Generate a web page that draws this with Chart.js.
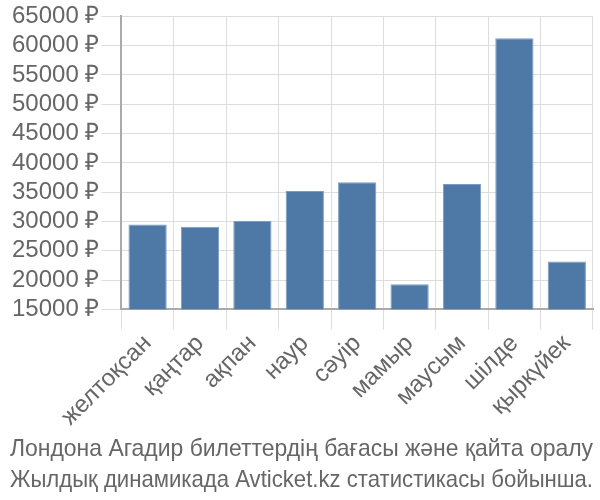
<!DOCTYPE html>
<html>
<head>
<meta charset="utf-8">
<script src="https://cdn.jsdelivr.net/npm/chart.js@4"></script>
<style>
  html, body { margin: 0; padding: 0; background: #fff; }
  #wrap { width: 600px; height: 500px; }
</style>
</head>
<body>
<div id="wrap"><canvas id="chart"></canvas></div>
<script>
const months = ["желтоқсан", "қаңтар", "ақпан", "наур", "сәуір", "мамыр", "маусым", "шілде", "қыркүйек"];
const prices = [29500, 29100, 30100, 35200, 36700, 19300, 36400, 61250, 23150];
const titleLines = [
  "Лондона Агадир билеттердің бағасы және қайта оралу",
  "Жылдық динамикада Avticket.kz статистикасы бойынша."
];

const textColor = "#666666";
const gridColor = "#dddddd";
const fontFamily = "Liberation Sans, Arial, sans-serif";

new Chart(document.getElementById("chart"), {
  type: "bar",
  data: {
    labels: months,
    datasets: [{
      data: prices,
      backgroundColor: "#4e78a6",
      borderColor: "#7b9cc0",
      borderWidth: 1,
      barPercentage: 0.73,
      categoryPercentage: 1
    }]
  },
  options: {
    responsive: true,
    maintainAspectRatio: false,
    animation: false,
    layout: { padding: { top: 2, right: 7, left: 10, bottom: 0 } },
    scales: {
      x: {
        grid: { color: gridColor, offset: true, tickLength: 20 },
        border: { color: "#aaaaaa", width: 2 },
        ticks: {
          color: textColor,
          font: { family: fontFamily, size: 24 },
          minRotation: 45,
          maxRotation: 45,
          padding: 0
        }
      },
      y: {
        min: 15000,
        max: 65000,
        grid: { color: gridColor, tickLength: 20 },
        border: { color: "#aaaaaa", width: 2 },
        ticks: {
          stepSize: 5000,
          autoSkip: false,
          color: textColor,
          padding: 2,
          font: { family: fontFamily, size: 24 },
          callback: (v) => v + " ₽"
        }
      }
    },
    plugins: {
      legend: { display: false },
      tooltip: { enabled: false },
      title: {
        display: true,
        position: "bottom",
        text: titleLines,
        color: textColor,
        align: "center",
        font: { family: fontFamily, size: 24, weight: "normal", lineHeight: 1.3 },
        padding: { top: 2, bottom: 4 }
      }
    }
  }
});
</script>
</body>
</html>
